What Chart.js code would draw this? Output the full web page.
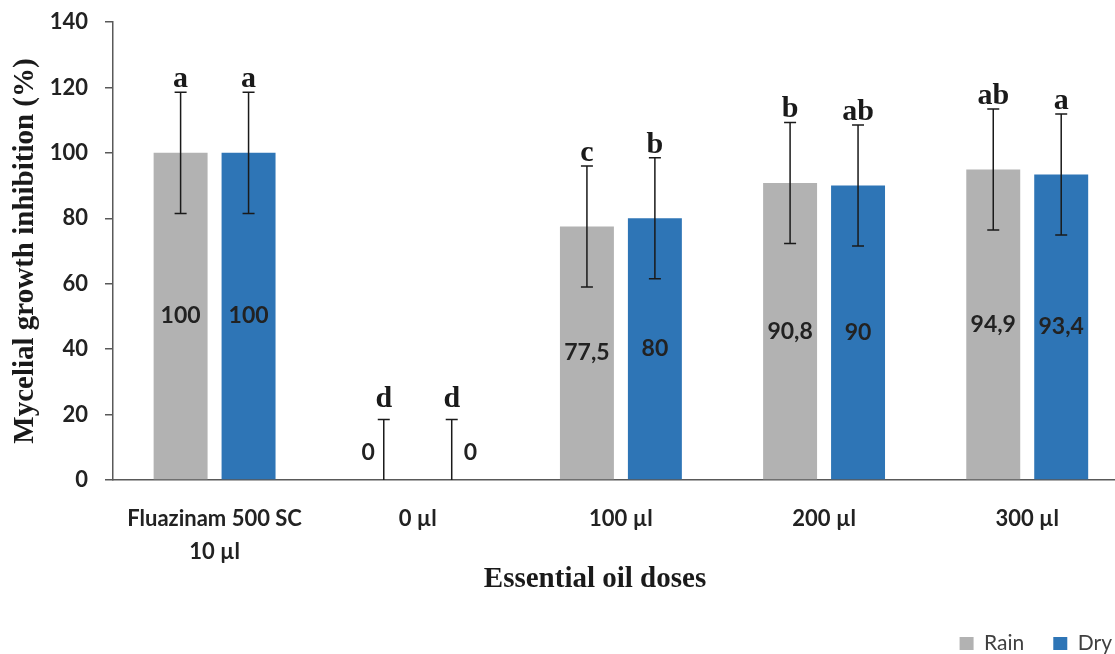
<!DOCTYPE html>
<html>
<head>
<meta charset="utf-8">
<script src="https://cdn.jsdelivr.net/npm/chart.js@4"></script>
<style>
  html, body { margin: 0; padding: 0; background: #fff; overflow: hidden; }
  #wrap { width: 1115px; height: 654px; overflow: hidden; position: relative; }
</style>
</head>
<body>
<div id="wrap">
  <canvas id="myChart" width="1141" height="664"></canvas>
</div>
<script>
// dane
const categories = [['Fluazinam 500 SC', '10 µl'], '0 µl', '100 µl', '200 µl', '300 µl'];
const rainValues = [100, 0, 77.5, 90.8, 94.9];
const dryValues = [100, 0, 80, 90, 93.4];
const rainErrors = [18.5, 18.5, 18.5, 18.5, 18.5];
const dryErrors = [18.5, 18.5, 18.5, 18.5, 18.5];
const rainLetters = ['a', 'd', 'c', 'b', 'ab'];
const dryLetters = ['a', 'd', 'b', 'ab', 'a'];
const yTicks = [0, 20, 40, 60, 80, 100, 120, 140];
const yTitle = 'Mycelial growth inhibition (%)';
const xTitle = 'Essential oil doses';

const sansBold = { family: 'Lato', size: 22, weight: 'bold' };
const textColor = '#222222';
const axisColor = '#595959';

// słupki błędów, litery i wartości
const annotations = {
    id: 'annotations',
    afterDatasetsDraw(chart) {
        const ctx = chart.ctx;
        const y = chart.scales.y;
        chart.data.datasets.forEach((ds, di) => {
            const meta = chart.getDatasetMeta(di);
            meta.data.forEach((bar, i) => {
                const v = ds.data[i].y;
                const err = ds.errors[i];
                const x = bar.x;
                const top = y.getPixelForValue(v + err);
                const bottom = y.getPixelForValue(Math.max(v - err, 0));
                ctx.save();
                ctx.strokeStyle = '#1a1a1a';
                ctx.lineWidth = 1.5;
                ctx.beginPath();
                ctx.moveTo(x, top); ctx.lineTo(x, bottom);
                ctx.moveTo(x - 6, top); ctx.lineTo(x + 6, top);
                if (v - err > 0) { ctx.moveTo(x - 6, bottom); ctx.lineTo(x + 6, bottom); }
                ctx.stroke();

                // litery
                ctx.fillStyle = '#1a1a1a';
                ctx.font = 'bold 30px "Liberation Serif"';
                ctx.textAlign = 'center';
                ctx.textBaseline = 'alphabetic';
                ctx.fillText(ds.letters[i], x, top - (v === 0 ? 12 : 5));

                // wartości
                ctx.font = 'bold 23px Lato';
                ctx.fillStyle = textColor;
                ctx.textBaseline = 'middle';
                const label = String(v).replace('.', ',');
                if (v === 0) {
                    const base = y.getPixelForValue(0) - 27;
                    if (di === 0) { ctx.textAlign = 'right'; ctx.fillText(label, x - 9, base); }
                    else { ctx.textAlign = 'left'; ctx.fillText(label, x + 12, base); }
                } else {
                    ctx.fillText(label, x, (bar.y + bar.base) / 2);
                }
                ctx.restore();
            });
        });
        // tytuł osi X
        ctx.save();
        ctx.font = 'bold 29px "Liberation Serif"';
        ctx.fillStyle = '#1a1a1a';
        ctx.textAlign = 'center';
        ctx.textBaseline = 'alphabetic';
        ctx.fillText(xTitle, 595, chart.chartArea.bottom + 107);
        ctx.restore();
    }
};

document.addEventListener('DOMContentLoaded', function() {
    const ctx = document.getElementById('myChart').getContext('2d');

    const data = {
        datasets: [{
            label: 'Rain',
            data: rainValues.map((v, i) => ({ x: i, y: v })),
            errors: rainErrors,
            letters: rainLetters,
            backgroundColor: '#b2b2b2',
            borderWidth: 0
        }, {
            label: 'Dry',
            data: dryValues.map((v, i) => ({ x: i, y: v })),
            errors: dryErrors,
            letters: dryLetters,
            backgroundColor: '#2e75b6',
            borderWidth: 0
        }]
    };

    const options = {
        responsive: false,
        animation: false,
        categoryPercentage: 0.669,
        barPercentage: 0.794,
        layout: { padding: { top: 22, left: 0, right: 0, bottom: 0 } },
        plugins: {
            legend: {
                position: 'bottom',
                align: 'end',
                labels: {
                    font: { family: 'Lato', size: 21 },
                    color: '#404040',
                    boxWidth: 14,
                    boxHeight: 13,
                    padding: 29
                }
            },
            tooltip: { enabled: false }
        },
        scales: {
            x: {
                type: 'linear',
                min: -0.5,
                max: 4.56,
                offset: false,
                afterBuildTicks: s => { s.ticks = categories.map((c, i) => ({ value: i })); },
                afterFit: s => { s.height = 124; },
                grid: { display: false, drawTicks: false },
                border: { display: true, color: axisColor, width: 1.5 },
                ticks: {
                    autoSkip: false,
                    maxRotation: 0,
                    padding: 22,
                    color: textColor,
                    font: { family: 'Lato', size: 22, weight: 'bold', lineHeight: 1.5 },
                    callback: v => categories[v]
                }
            },
            y: {
                min: 0,
                max: 140,
                afterBuildTicks: s => { s.ticks = yTicks.map(v => ({ value: v })); },
                afterFit: s => { s.width = 113; s.paddingTop = 0; s.paddingBottom = 0; },
                grid: { drawOnChartArea: false, drawTicks: true, tickLength: 8, color: axisColor, lineWidth: 1.5 },
                border: { display: true, color: axisColor, width: 1.5 },
                ticks: { padding: 17, color: textColor, font: sansBold },
                title: {
                    display: true,
                    text: yTitle,
                    color: '#1a1a1a',
                    padding: { top: 8, bottom: 0 },
                    font: { family: 'Liberation Serif', size: 29, weight: 'bold' }
                }
            }
        }
    };

    new Chart(ctx, { type: 'bar', data: data, options: options, plugins: [annotations] });
});
</script>
</body>
</html>
